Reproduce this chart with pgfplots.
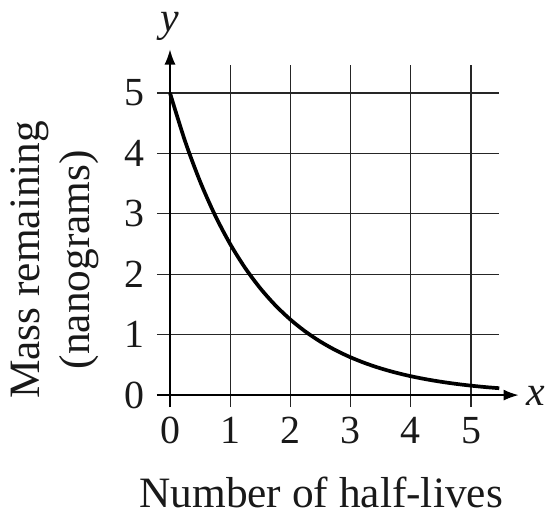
\documentclass[border=0pt]{standalone}
\usepackage{fontspec}
\setmainfont{Liberation Serif}
\usepackage{pgfplots}
\pgfplotsset{compat=1.18}
\usetikzlibrary{arrows.meta}
\begin{document}
\begin{tikzpicture}
\begin{axis}[
  scale only axis,
  width=342.5bp, height=342.5bp,
  xmin=-0.22, xmax=5.47, ymin=-0.2, ymax=5.47,
  axis line style={draw=none},
  major tick length=0pt,
  xtick={0,1,2,3,4,5}, ytick={0,1,2,3,4,5},
  grid=major,
  major grid style={draw=black!85, line width=1.2bp},
  /pgf/number format/assume math mode=true,
  ticklabel style={font=\fontsize{40}{44}\selectfont, text=black!90, inner sep=0pt},
  xticklabel style={anchor=north, yshift=-10bp},
  yticklabel style={anchor=east, xshift=-12bp},
  clip=false,
]
\path (axis cs:-2.824,-1.987) rectangle (axis cs:6.462,6.540);
\draw[line width=1.3bp, -{Latex[length=15bp,width=11bp]}] (axis cs:0,-0.2) -- (axis cs:0,5.72);
\draw[line width=1.3bp, -{Latex[length=15bp,width=11bp]}] (axis cs:-0.22,0) -- (axis cs:5.79,0);
\addplot[black, line width=3.7bp, smooth] coordinates {
 (0,5) (0.25,4.2045) (0.5,3.5355) (0.75,2.9730) (1,2.5) (1.25,2.1022)
 (1.5,1.7678) (1.75,1.4865) (2,1.25) (2.25,1.0511) (2.5,0.8839)
 (2.75,0.7433) (3,0.625) (3.25,0.5256) (3.5,0.4419) (3.75,0.3716)
 (4,0.3125) (4.25,0.2628) (4.5,0.2210) (4.75,0.1858) (5,0.15625)
 (5.25,0.1314) (5.47,0.1140)
};
\node[font=\fontsize{42}{44}\selectfont\itshape, text=black!90, anchor=base, inner sep=0pt] at (axis cs:0,6.02) {y};
\node[font=\fontsize{42}{44}\selectfont\itshape, text=black!90, anchor=base, inner sep=0pt] at (axis cs:6.08,-0.166) {x};
\node[font=\fontsize{43.5}{48}\selectfont, text=black!90, anchor=base, inner sep=0pt] at (axis cs:2.51,-1.854) {Number of half-lives};
\node[font=\fontsize{43.5}{50}\selectfont, text=black!90, rotate=90, align=center] at (axis cs:-1.91,2.24) {Mass remaining\\(nanograms)};
\end{axis}
\end{tikzpicture}
\end{document}
